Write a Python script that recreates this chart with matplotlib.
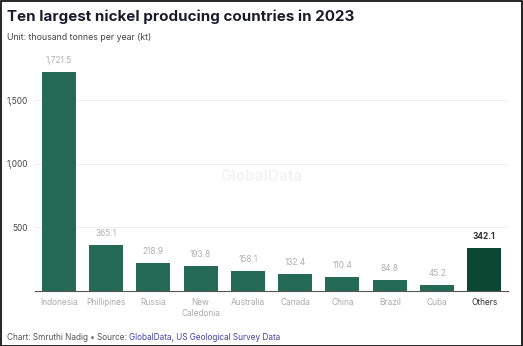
import matplotlib
matplotlib.use("Agg")
import matplotlib.pyplot as plt
from matplotlib.patches import Rectangle

categories = ["Indonesia", "Phillipines", "Russia", "New\nCaledonia", "Australia",
              "Canada", "China", "Brazil", "Cuba", "Others"]
values = [1721.5, 365.1, 218.9, 193.8, 158.1, 132.4, 110.4, 84.8, 45.2, 342.1]
value_labels = ["1,721.5", "365.1", "218.9", "193.8", "158.1", "132.4", "110.4", "84.8", "45.2", "342.1"]
yticks = [500, 1000, 1500]
ytick_labels = ["500", "1,000", "1,500"]

plt.rcParams['font.family'] = ['Inter', 'DejaVu Sans']

fig = plt.figure(figsize=(5.23, 3.46), dpi=100)
ax = fig.add_axes([0.0669, 0.159, 0.9044, 0.6607])

bar_color = "#256a55"
other_color = "#0c4733"
colors = [bar_color] * 9 + [other_color]
x = list(range(len(categories)))
ax.bar(x, values, width=0.72, color=colors, zorder=3)

ax.set_xlim(-0.5, 9.5)
ax.set_ylim(0, 1800)
ax.set_yticks(yticks)
ax.set_yticklabels(ytick_labels)
ax.grid(axis='y', color="#eeeeee", linewidth=0.8, zorder=0)
for s in ["top", "right", "left"]:
    ax.spines[s].set_visible(False)
ax.spines["bottom"].set_color("#555555")
ax.spines["bottom"].set_linewidth(0.8)
ax.tick_params(axis='y', length=0, labelsize=6, labelcolor="#444444", pad=5)
ax.tick_params(axis='x', length=0, labelsize=6, pad=5)
ax.set_xticks(x)
ax.set_xticklabels(categories, linespacing=1.3)
for i, lab in enumerate(ax.get_xticklabels()):
    lab.set_color("#333333" if i == 9 else "#aaaaaa")

for i, (v, t) in enumerate(zip(values, value_labels)):
    ax.annotate(t, (i, v), xytext=(0, 5), textcoords="offset points",
                ha="center", va="bottom", fontsize=6,
                color="#333333" if i == 9 else "#b0b0b0",
                fontweight="bold" if i == 9 else "normal")

fig.text(0.5, 0.49, "GlobalData", ha="center", va="center", fontsize=11,
         fontweight="bold", color="#f4f4f4", zorder=0)

fig.text(0.0134, 0.953, "Ten largest nickel producing countries in 2023", fontsize=10.9,
         fontweight="bold", color="#1b1b2b", va="center", ha="left")
fig.text(0.0134, 0.893, "Unit: thousand tonnes per year (kt)", fontsize=6.3,
         color="#444444", va="center", ha="left")

t1 = fig.text(0.0134, 0.026, "Chart: Smruthi Nadig \u2022 Source: ", fontsize=5.9,
              color="#555555", va="center", ha="left")
fig.canvas.draw()
bb = t1.get_window_extent()
fig.text(bb.x1 / fig.bbox.width, 0.026, "GlobalData, US Geological Survey Data",
         fontsize=5.9, color="#4444b0", va="center", ha="left")

fig.patches.append(Rectangle((0.001, 0.001), 0.997, 0.996, transform=fig.transFigure,
                             fill=False, edgecolor="black", linewidth=1.2))

fig.savefig("out.png", dpi=100)
